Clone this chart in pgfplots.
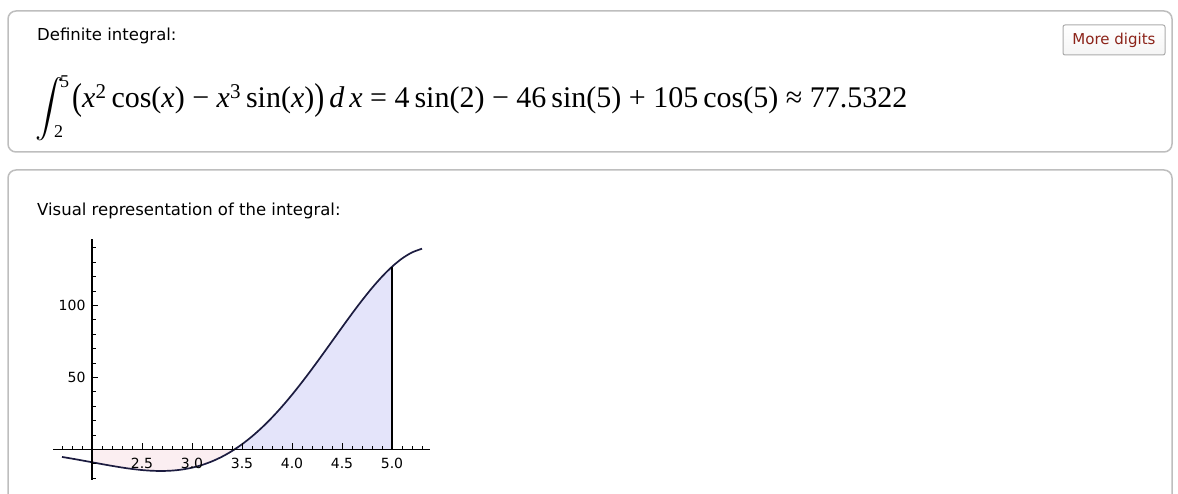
\documentclass[border=0pt]{standalone}
\usepackage{fontspec}
\usepackage{pgfplots}
\usepackage{pgfplotstable}
\pgfplotsset{compat=1.18}

\newfontfamily\uifont{DejaVu Sans}
\newfontfamily\formfont{Liberation Serif}

\definecolor{panelgray}{RGB}{190,190,190}
\definecolor{curveblue}{RGB}{28,28,64}
\definecolor{posfill}{RGB}{228,228,250}
\definecolor{negfill}{RGB}{251,238,241}
\definecolor{btnred}{RGB}{140,35,25}

% f(x) = x^2 cos(x) - x^3 sin(x)
\pgfplotstableread{
x    y
1.7  -5.244
1.8  -6.416
1.9  -7.658
2.0  -8.939
2.1  -10.221
2.2  -11.457
2.3  -12.598
2.4  -13.585
2.5  -14.358
2.6  -14.853
2.7  -15.003
2.8  -14.741
2.9  -14.001
3.0  -12.720
3.1  -10.840
3.2  -8.310
3.3  -5.085
3.4  -1.133
3.5  3.568
3.6  9.024
3.7  15.228
3.8  22.152
3.9  29.756
4.0  37.977
4.1  46.734
4.2  55.925
4.3  65.431
4.4  75.111
4.5  84.809
4.6  94.349
4.7  103.541
4.8  112.183
4.9  120.062
5.0  126.957
5.1  132.641
5.2  136.889
5.3  139.478
}\curvedata

% region between the curve and the axis where f < 0 (x from 2 to the root)
\pgfplotstableread{
x      y
2.0    0
2.0    -8.939
2.1    -10.221
2.2    -11.457
2.3    -12.598
2.4    -13.585
2.5    -14.358
2.6    -14.853
2.7    -15.003
2.8    -14.741
2.9    -14.001
3.0    -12.720
3.1    -10.840
3.2    -8.310
3.3    -5.085
3.4    -1.133
3.4256 0
}\negregion

% region where f > 0 (root to the upper limit 5)
\pgfplotstableread{
x      y
3.4256 0
3.5    3.568
3.6    9.024
3.7    15.228
3.8    22.152
3.9    29.756
4.0    37.977
4.1    46.734
4.2    55.925
4.3    65.431
4.4    75.111
4.5    84.809
4.6    94.349
4.7    103.541
4.8    112.183
4.9    120.062
5.0    126.957
5.0    0
}\posregion

\begin{document}
\begin{tikzpicture}[x=1pt,y=1pt]
\path[use as bounding box] (0,0) rectangle (1178,494);

% upper panel: the result
\draw[panelgray, line width=1.5pt, rounded corners=8pt, fill=white]
  (8,483) rectangle (1172,342);
\node[anchor=base west, inner sep=0, font=\uifont\fontsize{16.5}{18}\selectfont]
  at (37,453) {Definite integral:};

% "More digits" button
\draw[gray!65, line width=1pt, rounded corners=2pt, top color=white, bottom color=gray!8]
  (1063,469) rectangle (1165,439);
\node[inner sep=0, text=btnred, font=\uifont\fontsize{15}{16}\selectfont]
  at (1114,454) {More digits};

% the formula: integral sign with its limits, then the integrand and result
\node[inner sep=0] at (50,385) {\scalebox{2.85}{$\displaystyle\int$}};
\node[anchor=base west, inner sep=0, font=\formfont\fontsize{18}{19}\selectfont]
  at (60,406) {5};
\node[anchor=base west, inner sep=0, font=\formfont\fontsize{18}{19}\selectfont]
  at (54,356) {2};
\node[anchor=base west, inner sep=0, font=\formfont\fontsize{30}{32}\selectfont]
  at (72,386) {\raisebox{-2pt}{\scalebox{1}[1.25]{(}}\textit{x}\textsuperscript{2}\,cos(\textit{x}) − \textit{x}\textsuperscript{3}\,sin(\textit{x})\raisebox{-2pt}{\scalebox{1}[1.25]{)}}\,\textit{d\,x} = 4\,sin(2) − 46\,sin(5) + 105\,cos(5) ≈ 77.5322};

% lower panel: the plot
\draw[panelgray, line width=1.5pt, rounded corners=8pt, fill=white]
  (8,-20) -- (8,324) -- (1172,324) -- (1172,-20);
\node[anchor=base west, inner sep=0, font=\uifont\fontsize{16.5}{18}\selectfont]
  at (37,278) {Visual representation of the integral:};

\begin{axis}[
  at={(53,10)}, anchor=south west,
  scale only axis, width=377pt, height=241pt,
  clip=false,
  axis on top,
  x filter/.expression={x-2},
  xmin=-0.39, xmax=3.38,
  ymin=-21, ymax=146.5,
  axis lines=middle,
  axis line style={-, line width=1.3pt, black},
  xtick={0.5,1,1.5,2,2.5,3},
  xticklabels={2.5,3.0,3.5,4.0,4.5,5.0},
  minor xtick={-0.3,-0.2,-0.1,0.1,0.2,0.3,0.4,0.6,0.7,0.8,0.9,1.1,1.2,1.3,1.4,1.6,1.7,1.8,1.9,2.1,2.2,2.3,2.4,2.6,2.7,2.8,2.9,3.1,3.2,3.3},
  ytick={50,100},
  minor ytick={-20,-10,10,20,30,40,60,70,80,90,110,120,130,140},
  tick align=inside,
  major tick length=6pt,
  minor tick length=3.5pt,
  tick style={black, line width=1pt},
  /pgf/number format/assume math mode=true,
  ticklabel style={font=\uifont\fontsize{14}{15}\selectfont},
  xticklabel style={anchor=north, yshift=-5pt},
  yticklabel style={anchor=east, xshift=-3pt},
]
\addplot[draw=none, fill=negfill] table {\negregion} -- cycle;
\addplot[draw=none, fill=posfill] table {\posregion} -- cycle;
\addplot[curveblue, line width=1.7pt, smooth] table {\curvedata};
\addplot[black, line width=1.7pt] coordinates {(5,0) (5,126.957)};
\end{axis}
\end{tikzpicture}
\end{document}
